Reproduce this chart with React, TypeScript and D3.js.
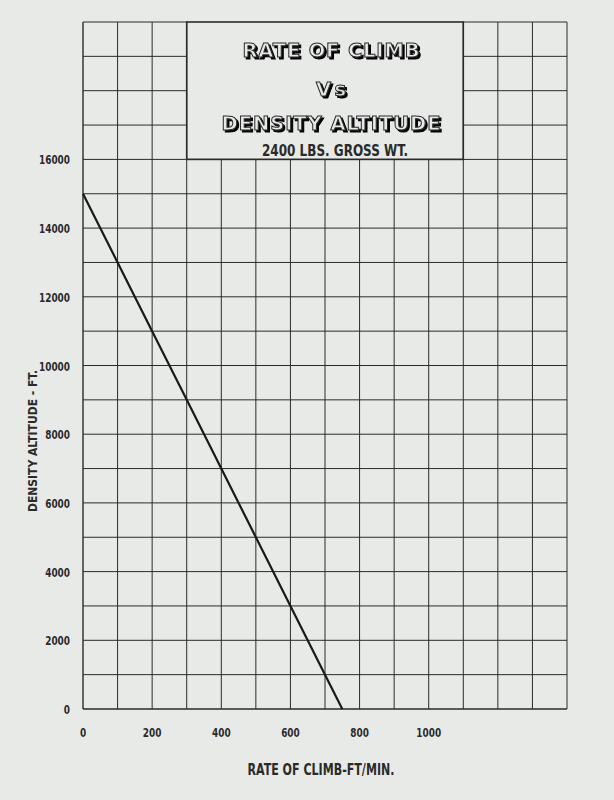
import React from "react";
import * as d3 from "d3";

const rateOfClimb = [0, 100, 200, 300, 400, 500, 600, 700, 750];
const densityAltitude = [15000, 13000, 11000, 9000, 7000, 5000, 3000, 1000, 0];
const xTickLabels = [0, 200, 400, 600, 800, 1000];
const yTickLabels = [0, 2000, 4000, 6000, 8000, 10000, 12000, 14000, 16000];
const titleLines = ["RATE OF CLIMB", "Vs", "DENSITY ALTITUDE"];
const subtitle = "2400 LBS. GROSS WT.";
const xTitle = "RATE OF CLIMB-FT/MIN.";
const yTitle = "DENSITY ALTITUDE - FT.";
const xMax = 1400;
const yMax = 20000;
const boxX = [300, 1100];
const boxYBottom = 16000;

const W = 614, H = 800;
const L = 83, R = 567, T = 22, B = 709;
const PAPER = "#e8eae8";
const INK = "#2a2a2a";
const FONT = "'DejaVu Sans Condensed', 'Roboto', sans-serif";

// title layout: [baseline y, width]
const titleGeom = [[57, 177], [96, 30], [130, 219]];

export default function App() {
  const x = d3.scaleLinear().domain([0, xMax]).range([L, R]);
  const y = d3.scaleLinear().domain([0, yMax]).range([B, T]);
  const xGrid = d3.range(0, xMax + 1, 100);
  const yGrid = d3.range(0, yMax + 1, 1000);
  const pts = rateOfClimb.map((r, i) => [r, densityAltitude[i]] as [number, number]);
  const line = d3.line<[number, number]>().x(d => x(d[0])).y(d => y(d[1]));

  return (
    <svg width={W} height={H} style={{ position: "absolute", left: 0, top: 0 }} fontFamily={FONT}>
      <defs>
        <filter id="sh" x="-10%" y="-20%" width="130%" height="160%">
          <feOffset in="SourceAlpha" dx={1.6} dy={1.6} result="o" />
          <feMerge>
            <feMergeNode in="o" />
            <feMergeNode in="SourceGraphic" />
          </feMerge>
        </filter>
      </defs>
      <rect x={0} y={0} width={W} height={H} fill={PAPER} />
      {/* vertical grid */}
      {xGrid.map(v => {
        const inside = v > boxX[0] && v < boxX[1];
        return (
          <line key={"vx" + v} x1={x(v)} x2={x(v)} y1={B} y2={inside ? y(boxYBottom) : T}
            stroke={INK} strokeWidth={v === 0 ? 1.4 : 1} />
        );
      })}
      {/* horizontal grid */}
      {yGrid.map(v => {
        if (v > boxYBottom) {
          return (
            <g key={"hy" + v}>
              <line x1={L} x2={x(boxX[0])} y1={y(v)} y2={y(v)} stroke={INK} strokeWidth={1} />
              <line x1={x(boxX[1])} x2={R} y1={y(v)} y2={y(v)} stroke={INK} strokeWidth={1} />
            </g>
          );
        }
        return <line key={"hy" + v} x1={L} x2={R} y1={y(v)} y2={y(v)} stroke={INK} strokeWidth={v === 0 ? 1.4 : 1} />;
      })}
      {/* title box */}
      <rect x={x(boxX[0])} y={T} width={x(boxX[1]) - x(boxX[0])} height={y(boxYBottom) - T}
        fill="none" stroke={INK} strokeWidth={1.6} />
      {/* title */}
      <g filter="url(#sh)">
        {titleLines.map((t, i) => (
          <text key={"t" + i} x={331} y={titleGeom[i][0]} textAnchor="middle" fontWeight="bold" fontSize={19.5}
            fontFamily="'DejaVu Sans', sans-serif" textLength={titleGeom[i][1]} lengthAdjust="spacing"
            fill={PAPER} stroke={INK} strokeWidth={1}>{t}</text>
        ))}
      </g>
      <text x={335} y={156} textAnchor="middle" fontWeight="bold" fontSize={15} fill={INK}
        textLength={146} lengthAdjust="spacingAndGlyphs">{subtitle}</text>
      {/* data line */}
      <path d={line(pts) || ""} fill="none" stroke="#1a1a1a" strokeWidth={2.2} />
      {/* y tick labels */}
      {yTickLabels.map(v => (
        <text key={"yl" + v} x={70} y={y(v) + 5} textAnchor="end" fontWeight="bold" fontSize={13} fill={INK}
          textLength={String(v).length * 6.2} lengthAdjust="spacingAndGlyphs">{v}</text>
      ))}
      {/* x tick labels */}
      {xTickLabels.map(v => (
        <text key={"xl" + v} x={x(v)} y={737} textAnchor="middle" fontWeight="bold" fontSize={13} fill={INK}
          textLength={String(v).length * 6.2} lengthAdjust="spacingAndGlyphs">{v}</text>
      ))}
      <text x={321} y={775} textAnchor="middle" fontWeight="bold" fontSize={15} fill={INK}
        textLength={147} lengthAdjust="spacingAndGlyphs">{xTitle}</text>
      <text transform="translate(37,441) rotate(-90)" textAnchor="middle" fontWeight="bold" fontSize={13} fill={INK}
        textLength={142} lengthAdjust="spacingAndGlyphs">{yTitle}</text>
    </svg>
  );
}
